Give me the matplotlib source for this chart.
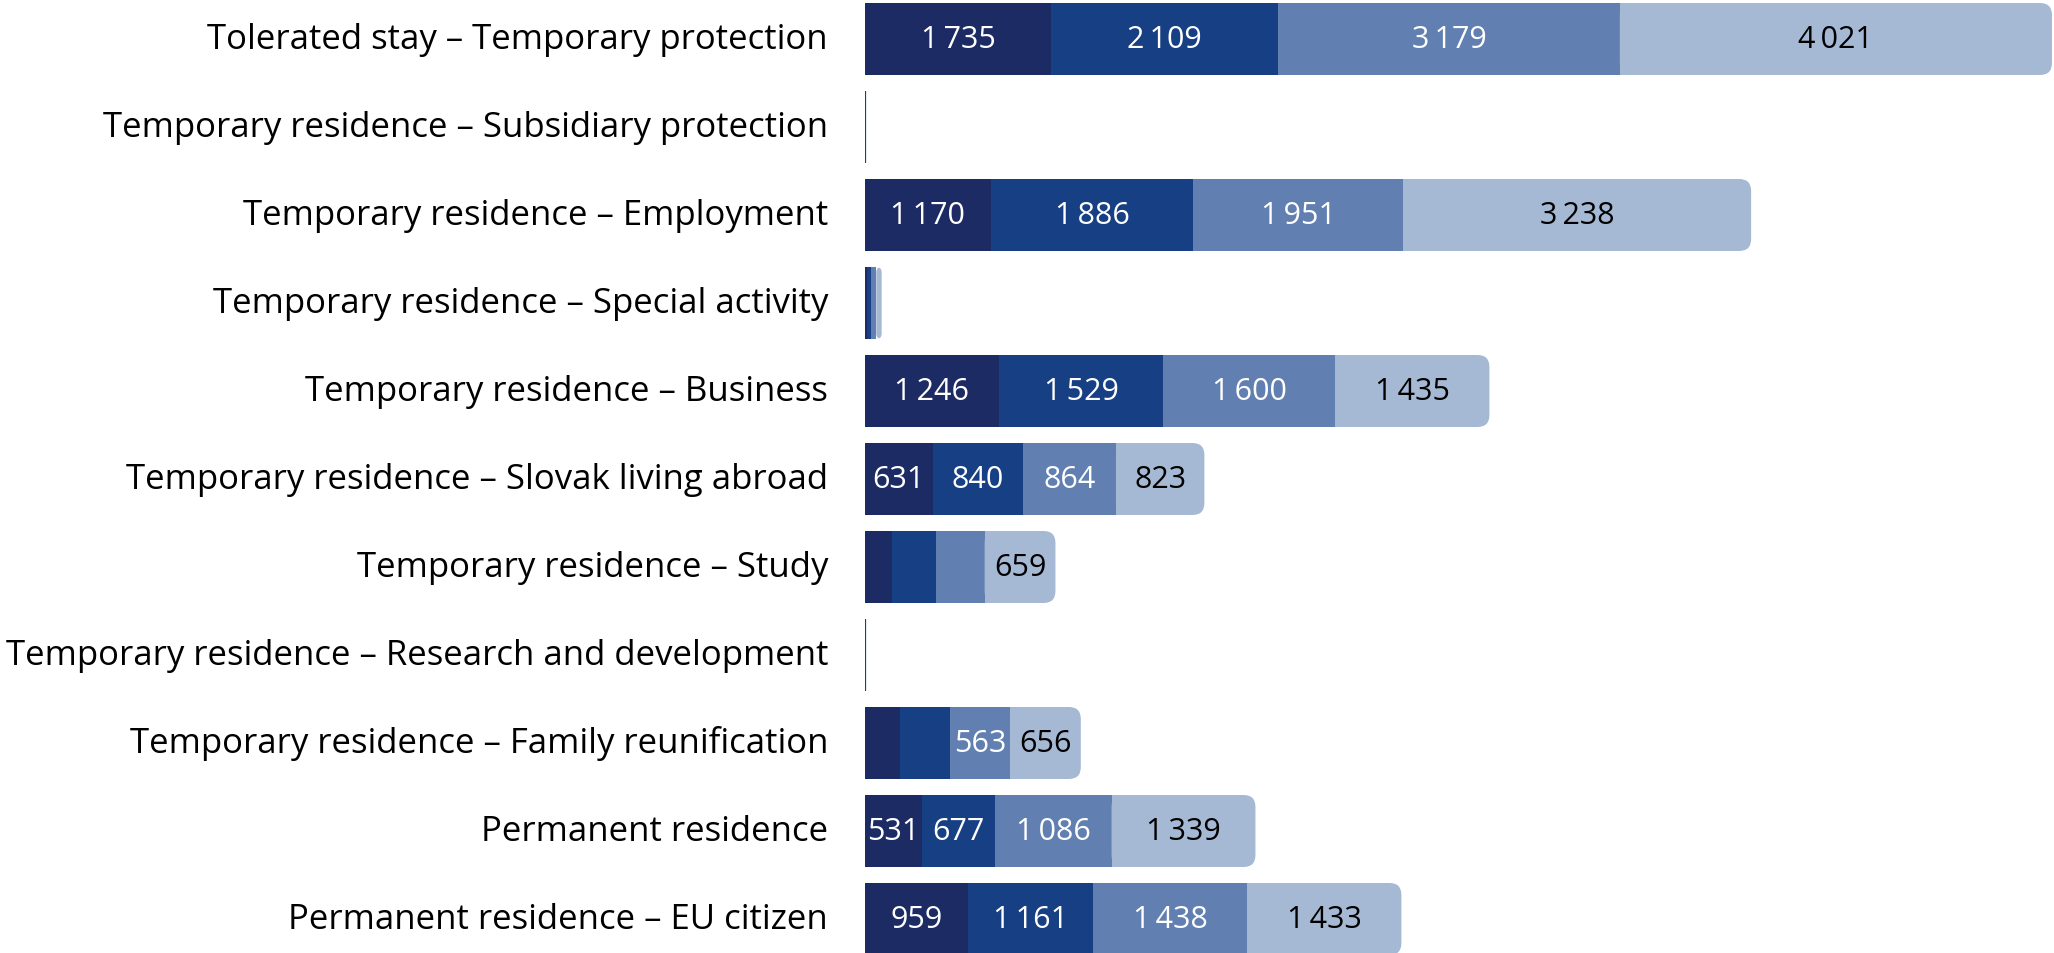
import numpy as np
from matplotlib import pyplot as plt
from matplotlib.patches import FancyBboxPatch, Rectangle

categories = [
    "Tolerated stay – Temporary protection",
    "Temporary residence – Subsidiary protection",
    "Temporary residence – Employment",
    "Temporary residence – Special activity",
    "Temporary residence – Business",
    "Temporary residence – Slovak living abroad",
    "Temporary residence – Study",
    "Temporary residence – Research and development",
    "Temporary residence – Family reunification",
    "Permanent residence",
    "Permanent residence – EU citizen",
]

# four stacked series (oldest to newest)
s1 = [1735, 3, 1170, 20, 1246, 631, 253, 3, 325, 531, 959]
s2 = [2109, 3, 1886, 40, 1529, 840, 405, 4, 464, 677, 1161]
s3 = [3179, 4, 1951, 45, 1600, 864, 455, 4, 563, 1086, 1438]
s4 = [4021, 3, 3238, 50, 1435, 823, 659, 3, 656, 1339, 1433]

series = [s1, s2, s3, s4]
colors = ["#1d2b64", "#173f84", "#6180b1", "#a6b9d4"]
text_colors = ["white", "white", "white", "black"]

W, H = 2054, 954
fig = plt.figure(figsize=(W / 100, H / 100), dpi=100)
ax_left = 865 / W
ax = fig.add_axes([ax_left, 0, 1 - ax_left, 1])

xmax = 11063
ax.set_xlim(0, xmax)
ax.set_ylim(10 + 34 / 88, -40 / 88)
ax.axis("off")

bar_h = 72 / 88
x_per_px = xmax / (W - 865)
y_per_px = 1 / 88
radius = 12 * x_per_px
font = "Open Sans"

def fmt(v):
    return f"{v:,}".replace(",", "\u2009")

for i, cat in enumerate(categories):
    left = 0
    for k, vals in enumerate(series):
        v = vals[i]
        y0 = i - bar_h / 2
        if k == 3:
            r = min(radius, v)
            box = FancyBboxPatch((left, y0), v, bar_h,
                                 boxstyle=f"round,pad=0,rounding_size={r}",
                                 mutation_aspect=y_per_px / x_per_px,
                                 fc=colors[k], ec="none", lw=0)
            ax.add_patch(box)
            if v > r:
                ax.add_patch(Rectangle((left, y0), v - r, bar_h,
                                       fc=colors[k], ec="none", lw=0))
        else:
            ax.add_patch(Rectangle((left, y0), v, bar_h,
                                   fc=colors[k], ec="none", lw=0))
        if v >= 500:
            ax.text(left + v / 2, i, fmt(v), ha="center", va="center",
                    color=text_colors[k], fontsize=22, family=font)
        left += v
    ax.text(-37 * x_per_px, i, cat, ha="right", va="center",
            color="black", fontsize=25, family=font, clip_on=False)

fig.savefig("out.png", dpi=100)
